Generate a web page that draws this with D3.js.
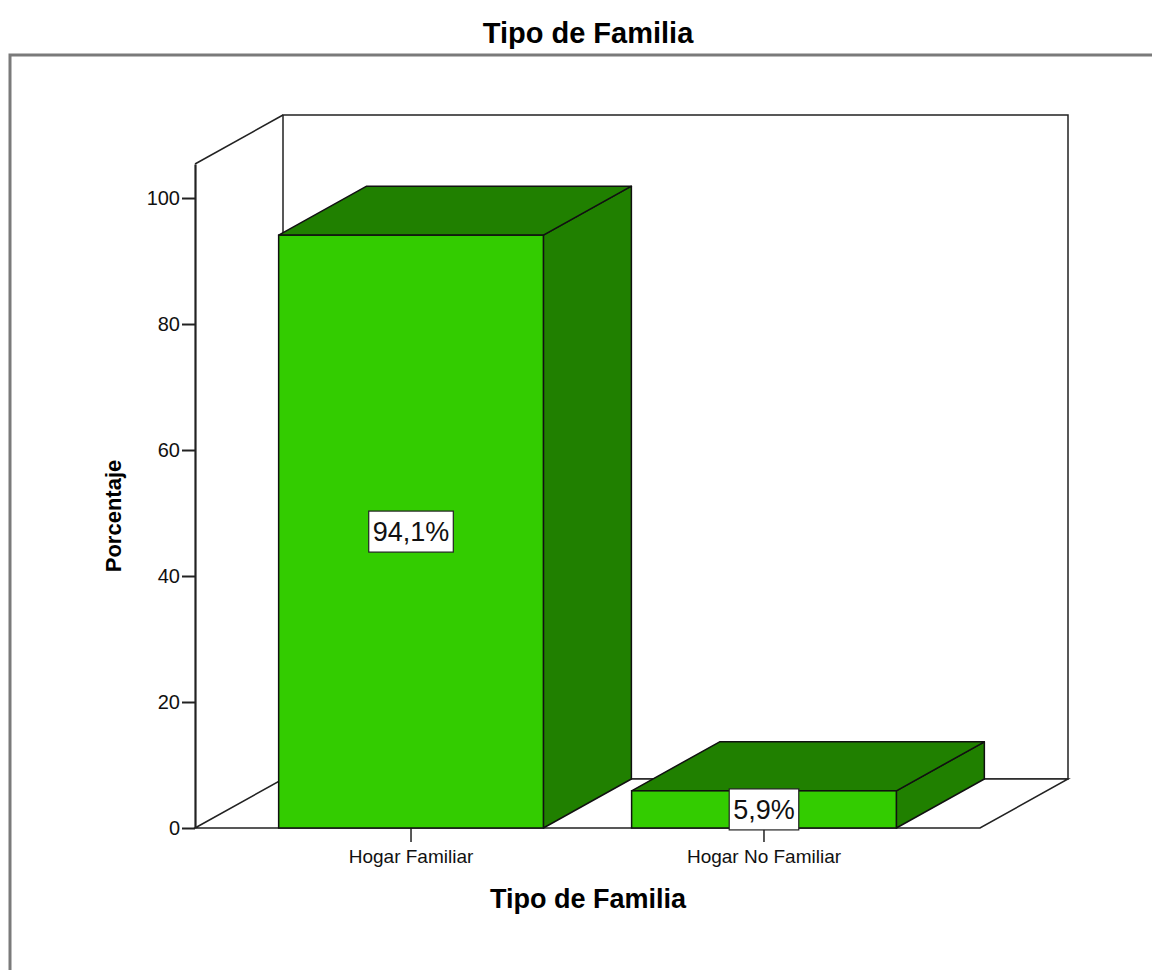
<!DOCTYPE html>
<html>
<head>
<meta charset="utf-8">
<script src="https://cdn.jsdelivr.net/npm/d3@7/dist/d3.min.js"></script>
<style>
  html, body { margin: 0; padding: 0; background: #fff; }
  svg { display: block; font-family: "Liberation Sans", Arial, sans-serif; }
</style>
</head>
<body>
<svg id="chart" width="1152" height="970"></svg>
<script>
const categories = ["Hogar Familiar", "Hogar No Familiar"];
const values = [94.1, 5.9];
const valueLabels = ["94,1%", "5,9%"];
const yTicks = [0, 20, 40, 60, 80, 100];
const chartTitle = "Tipo de Familia";
const xTitle = "Tipo de Familia";
const yTitle = "Porcentaje";

(function () {
const svg = d3.select("#chart");

const pLeft = 195, pRight = 980, pBottom = 828, pTop = 164;
const depthX = 88, depthY = 49;
const yMax = 105.4;

const x = d3.scaleBand().domain(categories).range([pLeft, pRight])
  .paddingInner(0.25).paddingOuter(0.237);
const y = d3.scaleLinear().domain([0, yMax]).range([pBottom, pTop]);

// outer frame
svg.append("rect")
  .attr("x", 10).attr("y", 55).attr("width", 1160).attr("height", 940)
  .attr("fill", "none").attr("stroke", "#7a7a7a").attr("stroke-width", 3);

// title
svg.append("text")
  .attr("x", 588).attr("y", 43).attr("text-anchor", "middle")
  .attr("font-size", 29).attr("font-weight", "bold").attr("fill", "#000")
  .text(chartTitle);

const frame = svg.append("g").attr("fill", "none").attr("stroke", "#222").attr("stroke-width", 1.5);
const line = d3.line();
// back wall
frame.append("path").attr("fill", "#fff").attr("d", line([
  [pLeft + depthX, pBottom - depthY], [pLeft + depthX, pTop - depthY],
  [pRight + depthX, pTop - depthY], [pRight + depthX, pBottom - depthY]
]) + "Z");
// left wall top edge
frame.append("path").attr("d", line([[pLeft, pTop], [pLeft + depthX, pTop - depthY]]));
// floor
frame.append("path").attr("fill", "#fff").attr("d", line([
  [pLeft, pBottom], [pLeft + depthX, pBottom - depthY],
  [pRight + depthX, pBottom - depthY], [pRight, pBottom]
]) + "Z");

// y axis
const yAxis = svg.append("g").attr("transform", `translate(${pLeft},0)`)
  .call(d3.axisLeft(y).tickValues(yTicks).tickSize(13).tickSizeOuter(0).tickPadding(2));
yAxis.select(".domain").attr("stroke", "#222").attr("stroke-width", 2.2);
yAxis.selectAll(".tick line").attr("stroke", "#222").attr("stroke-width", 2);
yAxis.selectAll(".tick text").attr("font-size", 20).attr("fill", "#111")
  .attr("font-family", "'Liberation Sans', Arial, sans-serif");

// x axis
const xAxis = svg.append("g").attr("transform", `translate(0,${pBottom})`)
  .call(d3.axisBottom(x).tickSize(14).tickSizeOuter(0).tickPadding(8));
xAxis.select(".domain").remove();
xAxis.selectAll(".tick line").attr("stroke", "#222").attr("stroke-width", 1.5);
xAxis.selectAll(".tick text").attr("font-size", 19).attr("fill", "#111")
  .attr("font-family", "'Liberation Sans', Arial, sans-serif");

// bars
const data = categories.map((c, i) => ({ c, v: values[i], label: valueLabels[i] }));
const bars = svg.append("g").selectAll("g").data(data).join("g");
bars.each(function(d) {
  const g = d3.select(this);
  const x0 = x(d.c), x1 = x(d.c) + x.bandwidth();
  const yt = y(d.v), yb = y(0);
  g.append("path").attr("fill", "#208000").attr("stroke", "#111").attr("stroke-width", 1.5)
    .attr("stroke-linejoin", "round")
    .attr("d", line([[x1, yb], [x1 + depthX, yb - depthY], [x1 + depthX, yt - depthY], [x1, yt]]) + "Z");
  g.append("path").attr("fill", "#208000").attr("stroke", "#111").attr("stroke-width", 1.5)
    .attr("stroke-linejoin", "round")
    .attr("d", line([[x0, yt], [x0 + depthX, yt - depthY], [x1 + depthX, yt - depthY], [x1, yt]]) + "Z");
  g.append("rect").attr("x", x0).attr("y", yt).attr("width", x1 - x0).attr("height", yb - yt)
    .attr("fill", "#33cc00").attr("stroke", "#111").attr("stroke-width", 1.5);
});

// value labels
const labels = svg.append("g").selectAll("g").data(data).join("g")
  .attr("transform", d => `translate(${x(d.c) + x.bandwidth() / 2},${(y(d.v) + y(0)) / 2})`);
labels.append("rect").attr("fill", "#fff").attr("stroke", "#222").attr("stroke-width", 1.2);
labels.append("text").attr("text-anchor", "middle").attr("dy", "0.36em")
  .attr("font-size", 27).attr("fill", "#111").text(d => d.label);
labels.each(function() {
  const g = d3.select(this);
  const bb = g.select("text").node().getBBox();
  const w = bb.width + 8, h = 41;
  g.select("rect").attr("x", -w / 2).attr("y", -h / 2).attr("width", w).attr("height", h);
});

// axis titles
svg.append("text")
  .attr("x", 588).attr("y", 908).attr("text-anchor", "middle")
  .attr("font-size", 27).attr("font-weight", "bold").attr("fill", "#000")
  .text(xTitle);
svg.append("text")
  .attr("transform", "translate(121,516) rotate(-90)").attr("text-anchor", "middle")
  .attr("font-size", 22).attr("font-weight", "bold").attr("fill", "#000")
  .text(yTitle);
})();
</script>
</body>
</html>
